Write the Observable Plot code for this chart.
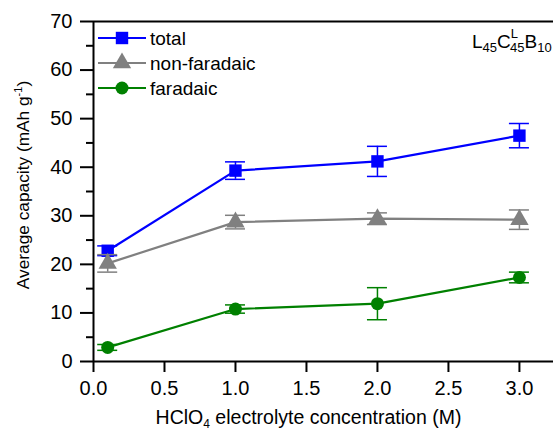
<!DOCTYPE html>
<html>
<head>
<meta charset="utf-8">
<script src="https://cdn.jsdelivr.net/npm/d3@7"></script>
<script src="https://cdn.jsdelivr.net/npm/@observablehq/plot@0.6"></script>
<style>
  body { margin: 0; background: #fff; }
  svg { font-family: "Liberation Sans", Arial, sans-serif; }
</style>
</head>
<body>
<div id="chart"></div>
<script>
// ---- data ----
const conc = [0.1, 1.0, 2.0, 3.0];
const total = [22.8, 39.3, 41.2, 46.5];
const totalErr = [1.0, 1.8, 3.1, 2.5];
const nonFaradaic = [20.2, 28.7, 29.4, 29.2];
const nonFaradaicErr = [1.8, 1.4, 1.2, 2.0];
const faradaic = [2.9, 10.8, 11.9, 17.3];
const faradaicErr = [0.6, 0.85, 3.3, 1.1];
const seriesNames = ["total", "non-faradaic", "faradaic"];
const seriesColors = ["#0000ff", "#808080", "#008000"];
const seriesSymbols = ["square", "triangle", "circle"];
const seriesR = [7, 6.8, 6.5];
const xTicks = [0, 0.5, 1.0, 1.5, 2.0, 2.5, 3.0];
const yTicks = [0, 10, 20, 30, 40, 50, 60, 70];
const yMinorTicks = [5, 15, 25, 35, 45, 55, 65];

const valuesBySeries = [total, nonFaradaic, faradaic];
const errBySeries = [totalErr, nonFaradaicErr, faradaicErr];
const rows = [];
seriesNames.forEach((s, i) => conc.forEach((c, j) => rows.push({
  series: s, x: c, y: valuesBySeries[i][j], e: errBySeries[i][j]
})));

const marks = [];
seriesNames.forEach((s, i) => {
  const d = rows.filter(r => r.series === s);
  const col = seriesColors[i];
  marks.push(
    Plot.line(d, {x: "x", y: "y", stroke: col, strokeWidth: 2.2}),
    Plot.ruleX(d, {x: "x", y1: r => r.y - r.e, y2: r => r.y + r.e, stroke: col, strokeWidth: 1.5}),
    Plot.ruleY(d, {y: r => r.y + r.e, x1: "x", x2: "x", insetLeft: -10, insetRight: -10, stroke: col, strokeWidth: 1.5}),
    Plot.ruleY(d, {y: r => r.y - r.e, x1: "x", x2: "x", insetLeft: -10, insetRight: -10, stroke: col, strokeWidth: 1.5}),
    Plot.dot(d, {x: "x", y: "y", symbol: seriesSymbols[i], r: seriesR[i], fill: col, stroke: "none"})
  );
});

const plot = Plot.plot({
  width: 553,
  height: 432,
  marginLeft: 93,
  marginTop: 21,
  marginBottom: 71,
  marginRight: 0,
  style: {fontFamily: '"Liberation Sans", Arial, sans-serif', color: "#000", background: "#fff"},
  x: {domain: [0, 3.24]},
  y: {domain: [0, 70]},
  marks: [
    Plot.axisX({ticks: xTicks, tickFormat: d3.format(".1f"), tickSize: 11, tickPadding: 8, fontSize: 20, label: null, strokeWidth: 2}),
    Plot.axisY({ticks: yTicks, tickSize: 13, tickPadding: 8, fontSize: 20, label: null, strokeWidth: 2}),
    Plot.axisY({ticks: yMinorTicks, tickSize: 7, text: null, label: null, strokeWidth: 2}),
    ...marks,
    Plot.ruleX([0], {stroke: "#000", strokeWidth: 2}),
    Plot.ruleY([0], {stroke: "#000", strokeWidth: 2}),
    Plot.ruleY([70], {stroke: "#000", strokeWidth: 2})
  ]
});

document.getElementById("chart").appendChild(plot);

// ---- annotations (legend, titles) ----
const svg = d3.select(plot);
const font = '"Liberation Sans", Arial, sans-serif';

// legend
const legend = svg.append("g").attr("text-anchor", "start");
seriesNames.forEach((s, i) => {
  const yy = 38 + i * 25;
  legend.append("line").attr("x1", 98).attr("x2", 146).attr("y1", yy).attr("y2", yy)
    .attr("stroke", seriesColors[i]).attr("stroke-width", 2.2);
  const sym = {square: d3.symbolSquare, triangle: d3.symbolTriangle, circle: d3.symbolCircle}[seriesSymbols[i]];
  legend.append("path").attr("d", d3.symbol(sym, Math.PI * seriesR[i] * seriesR[i])())
    .attr("transform", `translate(122,${yy})`).attr("fill", seriesColors[i]);
  legend.append("text").attr("x", 150).attr("y", yy).attr("dy", "0.35em")
    .attr("font-size", 19).attr("font-family", font).attr("fill", "#000").text(s);
});

// sample label L45 C^L45 B10
const lab = svg.append("text").attr("x", 472).attr("y", 48).attr("font-size", 19)
  .attr("text-anchor", "start").attr("font-family", font).attr("fill", "#000");
lab.append("tspan").text("L");
lab.append("tspan").attr("font-size", 13).attr("dy", 4).text("45");
lab.append("tspan").attr("dy", -4).text("C");
lab.append("tspan").attr("font-size", 13).attr("dy", -10).text("L");
lab.append("tspan").attr("font-size", 13).attr("dy", 14).attr("dx", -8).text("45");
lab.append("tspan").attr("dy", -4).text("B");
lab.append("tspan").attr("font-size", 13).attr("dy", 4).text("10");

// x title
const xt = svg.append("text").attr("x", 308.5).attr("y", 424).attr("text-anchor", "middle")
  .attr("font-size", 19.5).attr("font-family", font).attr("fill", "#000");
xt.append("tspan").text("HClO");
xt.append("tspan").attr("font-size", 12).attr("dy", 4).text("4");
xt.append("tspan").attr("dy", -4).text(" electrolyte concentration (M)");

// y title
const yt = svg.append("text").attr("transform", "translate(29,185) rotate(-90)").attr("text-anchor", "middle")
  .attr("font-size", 17.3).attr("font-family", font).attr("fill", "#000");
yt.append("tspan").text("Average capacity (mAh g");
yt.append("tspan").attr("font-size", 11).attr("dy", -7).text("-1");
yt.append("tspan").attr("dy", 7).text(")");
</script>
</body>
</html>
